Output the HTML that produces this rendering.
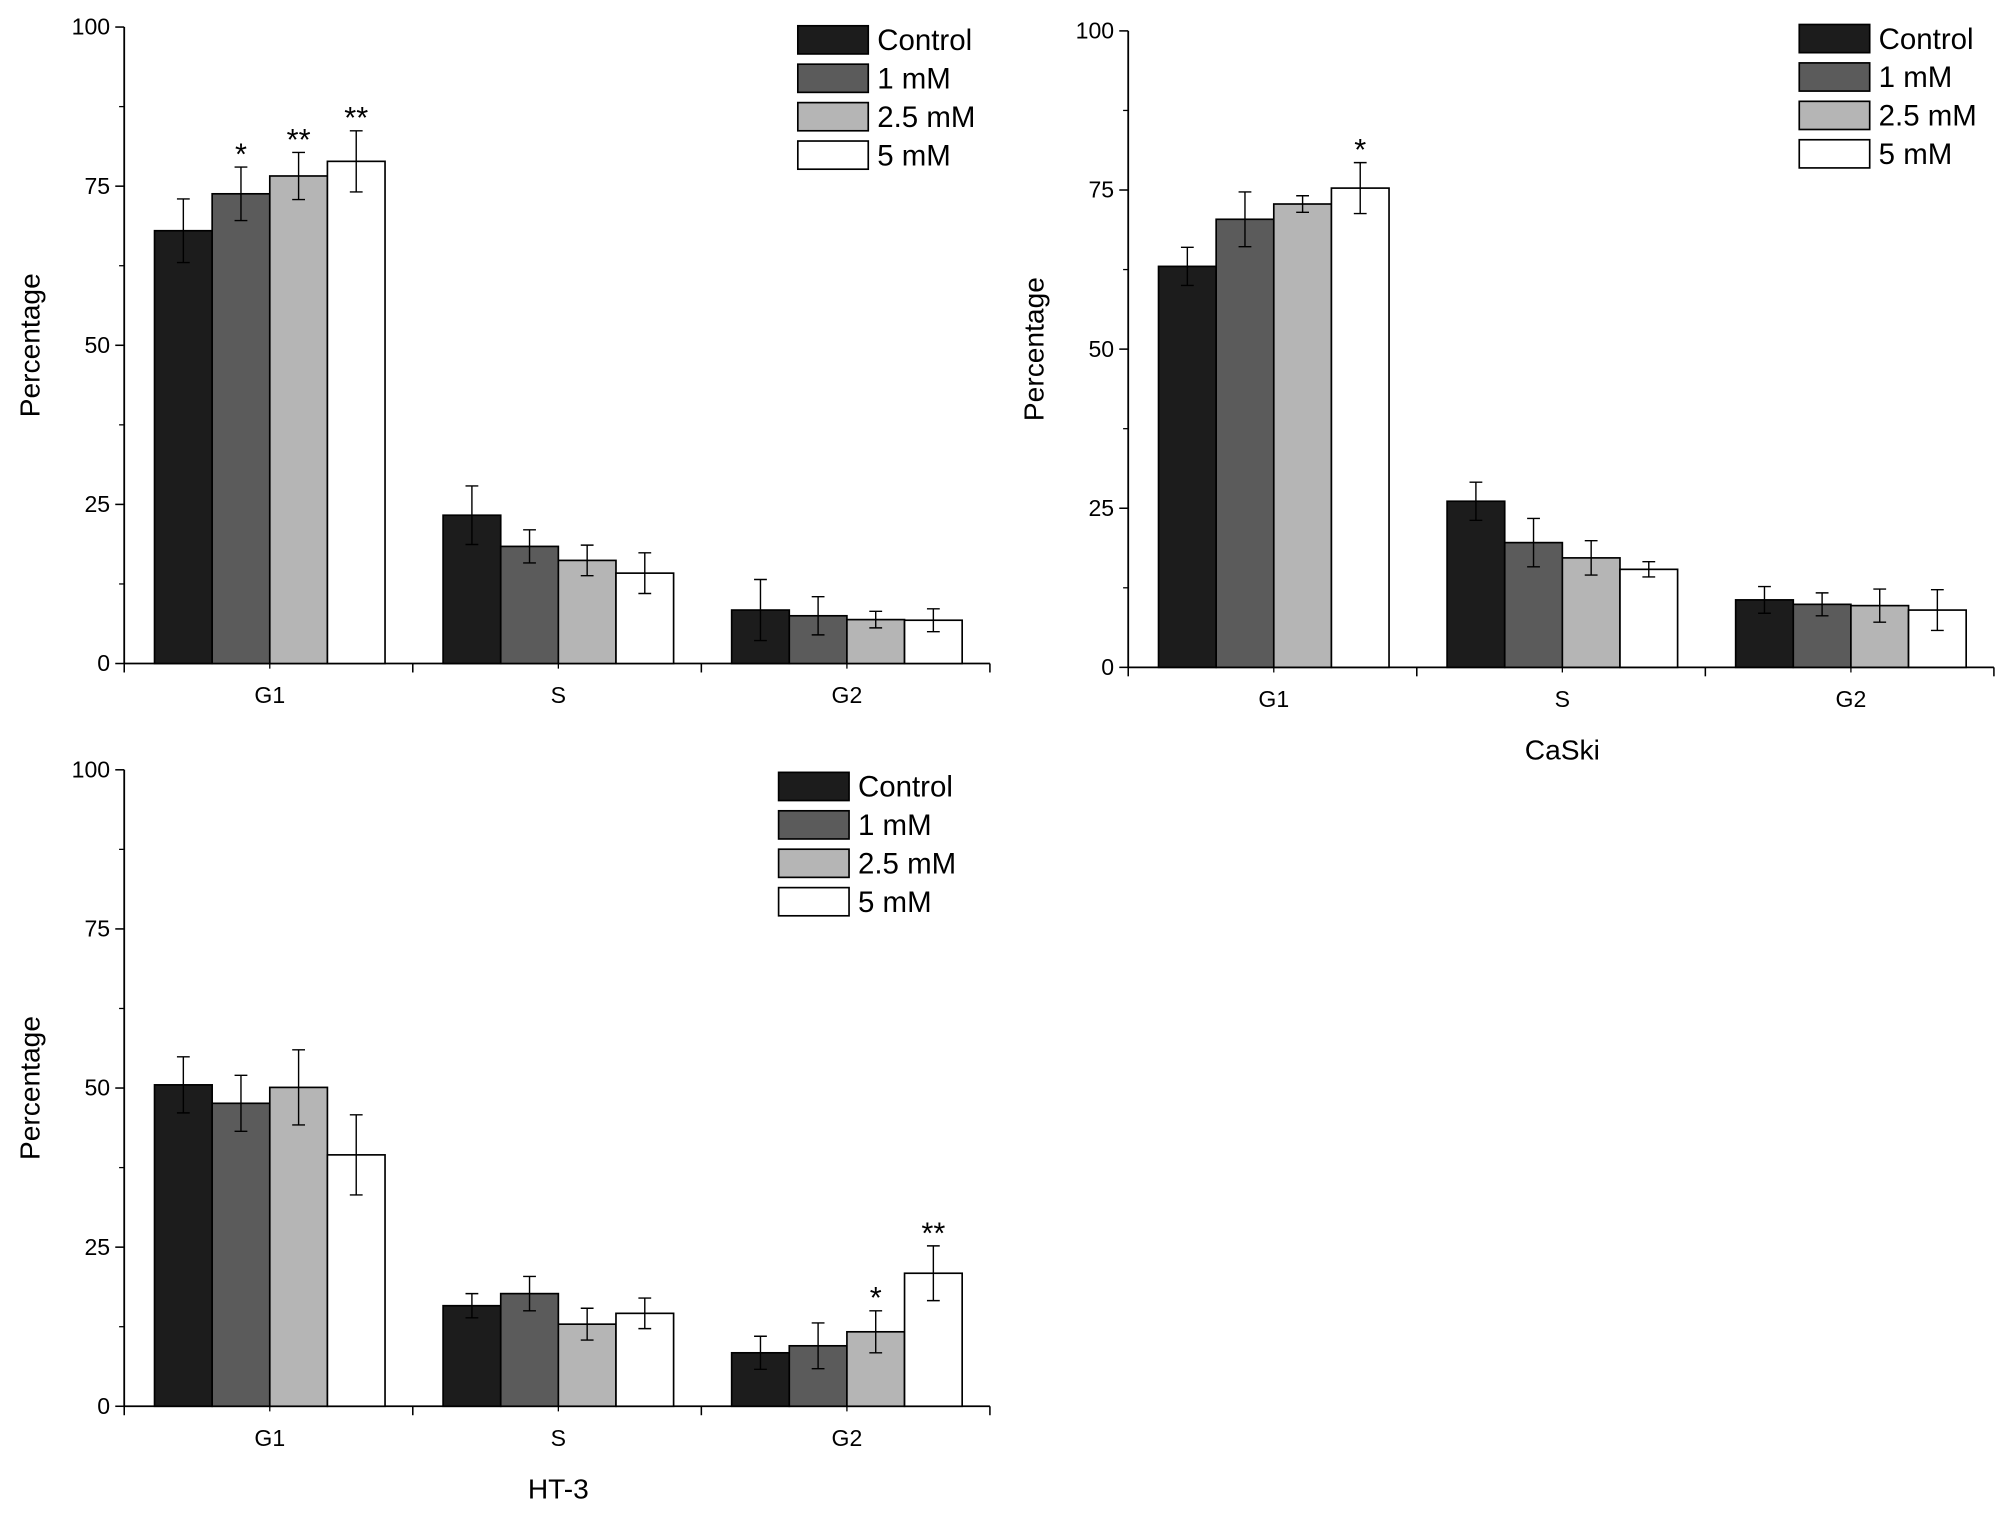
<!DOCTYPE html>
<html><head><meta charset="utf-8"><style>
html,body{margin:0;padding:0;background:#fff;}
svg{display:block;font-family:"Liberation Sans",Arial,sans-serif;}
</style></head><body>
<svg id="fig" width="2008" height="1514" viewBox="0 0 1568 1182"></svg>
<script>
const categories = ["G1","S","G2"];
const series = ["Control","1 mM","2.5 mM","5 mM"];
const colors = ["#1c1c1c","#5b5b5b","#b5b5b5","#ffffff"];
const yTicks = [0,25,50,75,100];
// panel 1
const p1Values = [[68,73.8,76.6,78.9],[23.3,18.4,16.2,14.2],[8.4,7.5,6.9,6.8]];
const p1Errors = [[5,4.2,3.7,4.8],[4.6,2.6,2.4,3.2],[4.8,3,1.3,1.8]];
const p1Stars = [["","*","**","**"],["","","",""],["","","",""]];
// panel 2 (CaSki)
const p2Values = [[63,70.4,72.8,75.3],[26.1,19.6,17.2,15.4],[10.6,9.9,9.7,9]];
const p2Errors = [[3,4.3,1.3,4],[3,3.8,2.7,1.2],[2.1,1.8,2.6,3.2]];
const p2Stars = [["","","","*"],["","","",""],["","","",""]];
// panel 3 (HT-3)
const p3Values = [[50.5,47.6,50.1,39.5],[15.8,17.7,12.9,14.6],[8.4,9.5,11.7,20.9]];
const p3Errors = [[4.4,4.4,5.9,6.3],[1.9,2.7,2.5,2.4],[2.6,3.6,3.3,4.3]];
const p3Stars = [["","","",""],["","","",""],["","","*","**"]];

const NS="http://www.w3.org/2000/svg";
const svg=document.getElementById('fig');
function mk(tag,attrs,parent){const e=document.createElementNS(NS,tag);for(const k in attrs)e.setAttribute(k,attrs[k]);(parent||svg).appendChild(e);return e;}

function panel(cfg,values,errors,stars){
  const g=mk('g',{});
  
  
  const x0=cfg.x0,x1=cfg.x0+676,yTop=cfg.yTop,yBot=cfg.yTop+497;
  const yS=v=>yBot-(v/100)*(yBot-yTop);
  const catW=(x1-x0)/3;
  const xC=i=>x0+catW*(i+0.5)+1;
  const barW=45;
  const ax=mk('line',{x1:x0,y1:yTop,x2:x0,y2:yBot,stroke:'#000','stroke-width':1.4},g);
  
  const bx=mk('line',{x1:x0,y1:yBot,x2:x1,y2:yBot,stroke:'#000','stroke-width':1.4},g);
  
  yTicks.forEach(t=>{
    mk('line',{x1:x0-7,y1:yS(t),x2:x0,y2:yS(t),stroke:'#000','stroke-width':1.2},g);
    const tx=mk('text',{x:x0-11,y:yS(t)+6,'text-anchor':'end','font-size':18},g);
    tx.textContent=t;
    
    if(t<100) mk('line',{x1:x0-4,y1:yS(t+12.5),x2:x0,y2:yS(t+12.5),stroke:'#000','stroke-width':1},g);
  });
  for(let i=0;i<=3;i++) mk('line',{x1:x0+catW*i,y1:yBot,x2:x0+catW*i,y2:yBot+7,stroke:'#000','stroke-width':1.2},g);
  categories.forEach((c,i)=>{
    mk('line',{x1:xC(i),y1:yBot,x2:xC(i),y2:yBot+4,stroke:'#000','stroke-width':1},g);
    const tx=mk('text',{x:xC(i),y:yBot+31,'text-anchor':'middle','font-size':18},g);
    tx.textContent=c;
    
  });
  const yl=mk('text',{x:0,y:0,'text-anchor':'middle','font-size':22,transform:`translate(${x0-66},${(yTop+yBot)/2}) rotate(-90)`},g);
  yl.textContent='Percentage';
  
  if(cfg.title){const t=mk('text',{x:xC(1),y:yBot+72,'text-anchor':'middle','font-size':22},g);t.textContent=cfg.title;
    }
  categories.forEach((c,i)=>{
    series.forEach((s,j)=>{
      const v=values[i][j],e=errors[i][j];
      const bl=xC(i)-2*barW+j*barW;
      const r=mk('rect',{x:bl,y:yS(v),width:barW,height:yBot-yS(v),fill:colors[j],stroke:'#000','stroke-width':1.3},g);
      
      const cx=bl+barW/2;
      const eb=mk('path',{d:`M${cx},${yS(v+e)}V${yS(v-e)}M${cx-5},${yS(v+e)}H${cx+5}M${cx-5},${yS(v-e)}H${cx+5}`,stroke:'#000','stroke-width':1.1,fill:'none'},g);
      
      if(stars[i][j]){const st=mk('text',{x:cx,y:yS(v+e)-2,'text-anchor':'middle','font-size':24},g);st.textContent=stars[i][j];
        }
    });
  });
  series.forEach((s,j)=>{
    const ly=cfg.legY+j*30;
    const lr=mk('rect',{x:cfg.legX,y:ly-11,width:55,height:22,fill:colors[j],stroke:'#000','stroke-width':1.3},g);
    
    const lt=mk('text',{x:cfg.legX+62,y:ly+8,'font-size':23},g);lt.textContent=s;
    
  });
}
panel({name:'chart-panel-1',x0:97,yTop:21,legX:623,legY:31},p1Values,p1Errors,p1Stars);
panel({name:'chart-panel-caski',x0:881,yTop:24,legX:1405,legY:30,title:'CaSki'},p2Values,p2Errors,p2Stars);
panel({name:'chart-panel-ht3',x0:97,yTop:601,legX:608,legY:614,title:'HT-3'},p3Values,p3Errors,p3Stars);
</script>
</body></html>
